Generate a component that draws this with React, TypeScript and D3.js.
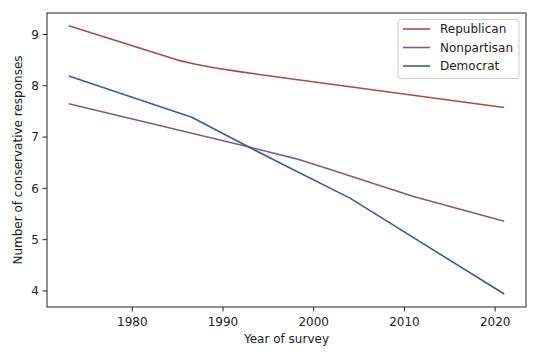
import React from "react";
import * as d3 from "d3";

const repYears = [1973, 1985, 1987, 1989, 1992, 1996, 2021];
const repValues = [9.17, 8.5, 8.42, 8.35, 8.27, 8.17, 7.575];
const nonYears = [1973, 1993, 1998, 2002, 2011, 2021];
const nonValues = [7.65, 6.8, 6.58, 6.36, 5.84, 5.36];
const demYears = [1973, 1985, 1986.5, 1993, 1997, 2004, 2021];
const demValues = [8.19, 7.48, 7.39, 6.79, 6.43, 5.81, 3.94];

const xTicks = [1980, 1990, 2000, 2010, 2020];
const yTicks = [4, 5, 6, 7, 8, 9];

const seriesNames = ["Republican", "Nonpartisan", "Democrat"];
const seriesColors = ["#ab4b47", "#7a5a93", "#33609e"];

const W = 540, H = 360;
const L = 47, R = 526, T = 13, B = 307;
const FONT = "'DejaVu Sans', sans-serif";

export default function App() {
  const x = d3.scaleLinear().domain([1970.6, 2023.4]).range([L, R]);
  const y = d3.scaleLinear().domain([3.6875, 9.418]).range([B, T]);
  const line = d3
    .line<[number, number]>()
    .x((d) => x(d[0]))
    .y((d) => y(d[1]))
    .curve(d3.curveLinear);

  const series = [
    { name: seriesNames[0], color: seriesColors[0], pts: repYears.map((yr, i) => [yr, repValues[i]] as [number, number]) },
    { name: seriesNames[1], color: seriesColors[1], pts: nonYears.map((yr, i) => [yr, nonValues[i]] as [number, number]) },
    { name: seriesNames[2], color: seriesColors[2], pts: demYears.map((yr, i) => [yr, demValues[i]] as [number, number]) },
  ];

  const fs = 12;
  return (
    <svg
      width={W}
      height={H}
      style={{ position: "absolute", left: 0, top: 0, background: "#fff" }}
      fontFamily={FONT}
    >
      <rect x={0} y={0} width={W} height={H} fill="#fff" />
      <g>
        {series.map((s) => (
          <path key={s.name} d={line(s.pts) || ""} fill="none" stroke={s.color} strokeWidth={1.6} strokeLinejoin="round" />
        ))}
      </g>
      <rect x={L} y={T} width={R - L} height={B - T} fill="none" stroke="#222" strokeWidth={1} />
      {xTicks.map((t) => (
        <g key={t}>
          <line x1={x(t)} x2={x(t)} y1={B} y2={B + 4.5} stroke="#222" strokeWidth={1} />
          <text x={x(t)} y={B + 19} fontSize={fs} textAnchor="middle" fill="#222">
            {t}
          </text>
        </g>
      ))}
      {yTicks.map((t) => (
        <g key={t}>
          <line x1={L - 4.5} x2={L} y1={y(t)} y2={y(t)} stroke="#222" strokeWidth={1} />
          <text x={L - 8} y={y(t)} dy="0.35em" fontSize={fs} textAnchor="end" fill="#222">
            {t}
          </text>
        </g>
      ))}
      <text x={(L + R) / 2} y={343} fontSize={fs} textAnchor="middle" fill="#222">
        Year of survey
      </text>
      <text
        transform={`translate(22, ${(T + B) / 2}) rotate(-90)`}
        fontSize={fs}
        textAnchor="middle"
        fill="#222"
      >
        Number of conservative responses
      </text>
      <g>
        <rect x={398} y={19.5} width={121} height={59} rx={3} fill="#fff" fillOpacity={0.8} stroke="#ccc" strokeWidth={1} />
        {series.map((s, i) => (
          <g key={s.name}>
            <line x1={403} x2={430} y1={29 + i * 18.5} y2={29 + i * 18.5} stroke={s.color} strokeWidth={1.6} />
            <text x={440} y={29 + i * 18.5} dy="0.35em" fontSize={fs} fill="#222">
              {s.name}
            </text>
          </g>
        ))}
      </g>
    </svg>
  );
}
